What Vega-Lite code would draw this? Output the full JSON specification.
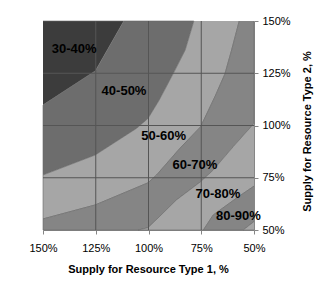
{
  "$schema": "https://vega.github.io/schema/vega-lite/v6.json",
  "width": 211,
  "height": 209,
  "autosize": "none",
  "padding": {"left": 43, "top": 21, "right": 79, "bottom": 59},
  "background": "white",
  "config": {"view": {"stroke": null}},
  "datasets": {
    "bands": [
      {"band": "30-40", "ord": 1, "x": 150, "y": 150},
      {"band": "30-40", "ord": 2, "x": 111.7, "y": 150},
      {"band": "30-40", "ord": 3, "x": 125.2, "y": 126.1},
      {"band": "30-40", "ord": 4, "x": 150, "y": 109.8},

      {"band": "40-50", "ord": 1, "x": 111.7, "y": 150},
      {"band": "40-50", "ord": 2, "x": 78.5, "y": 150},
      {"band": "40-50", "ord": 3, "x": 82.6, "y": 136.1},
      {"band": "40-50", "ord": 4, "x": 88.4, "y": 124.6},
      {"band": "40-50", "ord": 5, "x": 94.9, "y": 112.2},
      {"band": "40-50", "ord": 6, "x": 100.2, "y": 103.4},
      {"band": "40-50", "ord": 7, "x": 105.7, "y": 98.6},
      {"band": "40-50", "ord": 8, "x": 125.2, "y": 85.9},
      {"band": "40-50", "ord": 9, "x": 150, "y": 76.3},
      {"band": "40-50", "ord": 10, "x": 150, "y": 109.8},
      {"band": "40-50", "ord": 11, "x": 125.2, "y": 126.1},

      {"band": "50-60", "ord": 1, "x": 78.5, "y": 150},
      {"band": "50-60", "ord": 2, "x": 82.6, "y": 136.1},
      {"band": "50-60", "ord": 3, "x": 88.4, "y": 124.6},
      {"band": "50-60", "ord": 4, "x": 94.9, "y": 112.2},
      {"band": "50-60", "ord": 5, "x": 100.2, "y": 103.4},
      {"band": "50-60", "ord": 6, "x": 105.7, "y": 98.6},
      {"band": "50-60", "ord": 7, "x": 125.2, "y": 85.9},
      {"band": "50-60", "ord": 8, "x": 150, "y": 76.3},
      {"band": "50-60", "ord": 9, "x": 150, "y": 55.3},
      {"band": "50-60", "ord": 10, "x": 125.2, "y": 62.0},
      {"band": "50-60", "ord": 11, "x": 100.2, "y": 72.6},
      {"band": "50-60", "ord": 12, "x": 96.2, "y": 76.3},
      {"band": "50-60", "ord": 13, "x": 85.1, "y": 89.1},
      {"band": "50-60", "ord": 14, "x": 75.3, "y": 99.4},
      {"band": "50-60", "ord": 15, "x": 68.5, "y": 113.8},
      {"band": "50-60", "ord": 16, "x": 63.8, "y": 124.6},
      {"band": "50-60", "ord": 17, "x": 60.6, "y": 136.1},
      {"band": "50-60", "ord": 18, "x": 57.0, "y": 150},

      {"band": "60-70", "ord": 1, "x": 57.0, "y": 150},
      {"band": "60-70", "ord": 2, "x": 60.6, "y": 136.1},
      {"band": "60-70", "ord": 3, "x": 63.8, "y": 124.6},
      {"band": "60-70", "ord": 4, "x": 68.5, "y": 113.8},
      {"band": "60-70", "ord": 5, "x": 75.3, "y": 99.4},
      {"band": "60-70", "ord": 6, "x": 85.1, "y": 89.1},
      {"band": "60-70", "ord": 7, "x": 96.2, "y": 76.3},
      {"band": "60-70", "ord": 8, "x": 100.2, "y": 72.6},
      {"band": "60-70", "ord": 9, "x": 125.2, "y": 62.0},
      {"band": "60-70", "ord": 10, "x": 150, "y": 55.3},
      {"band": "60-70", "ord": 11, "x": 150, "y": 50},
      {"band": "60-70", "ord": 12, "x": 104.9, "y": 50},
      {"band": "60-70", "ord": 13, "x": 100.2, "y": 51.1},
      {"band": "60-70", "ord": 14, "x": 86.7, "y": 64.4},
      {"band": "60-70", "ord": 15, "x": 75.3, "y": 73.1},
      {"band": "60-70", "ord": 16, "x": 69.3, "y": 78.7},
      {"band": "60-70", "ord": 17, "x": 59.8, "y": 89.9},
      {"band": "60-70", "ord": 18, "x": 50, "y": 101.0},
      {"band": "60-70", "ord": 19, "x": 50, "y": 150},

      {"band": "70-80", "ord": 1, "x": 50, "y": 101.0},
      {"band": "70-80", "ord": 2, "x": 59.8, "y": 89.9},
      {"band": "70-80", "ord": 3, "x": 69.3, "y": 78.7},
      {"band": "70-80", "ord": 4, "x": 75.3, "y": 73.1},
      {"band": "70-80", "ord": 5, "x": 86.7, "y": 64.4},
      {"band": "70-80", "ord": 6, "x": 100.2, "y": 51.1},
      {"band": "70-80", "ord": 7, "x": 104.9, "y": 50},
      {"band": "70-80", "ord": 8, "x": 74.0, "y": 50},
      {"band": "70-80", "ord": 9, "x": 69.3, "y": 57.2},
      {"band": "70-80", "ord": 10, "x": 57.4, "y": 65.9},
      {"band": "70-80", "ord": 11, "x": 50, "y": 71.0},

      {"band": "80-90", "ord": 1, "x": 50, "y": 71.0},
      {"band": "80-90", "ord": 2, "x": 57.4, "y": 65.9},
      {"band": "80-90", "ord": 3, "x": 69.3, "y": 57.2},
      {"band": "80-90", "ord": 4, "x": 74.0, "y": 50},
      {"band": "80-90", "ord": 5, "x": 55.1, "y": 50},
      {"band": "80-90", "ord": 6, "x": 50, "y": 54.0},

      {"band": "90-100", "ord": 1, "x": 50, "y": 54.0},
      {"band": "90-100", "ord": 2, "x": 55.1, "y": 50},
      {"band": "90-100", "ord": 3, "x": 50, "y": 50}
    ],
    "gridx": [{"v": 125}, {"v": 100}, {"v": 75}],
    "gridy": [{"v": 125}, {"v": 100}, {"v": 75}],
    "labels": [
      {"label": "30-40%", "x": 135.2, "y": 136.6},
      {"label": "40-50%", "x": 111.6, "y": 116.4},
      {"label": "50-60%", "x": 92.8, "y": 95.0},
      {"label": "60-70%", "x": 78.0, "y": 81.0},
      {"label": "70-80%", "x": 67.1, "y": 67.4},
      {"label": "80-90%", "x": 57.4, "y": 56.8}
    ]
  },
  "encoding": {
    "x": {
      "field": "x",
      "type": "quantitative",
      "scale": {"domain": [50, 150], "reverse": true, "nice": false, "zero": false},
      "axis": {
        "title": "Supply for Resource Type 1, %",
        "values": [150, 125, 100, 75, 50],
        "labelExpr": "datum.value + '%'",
        "grid": false,
        "labelFlush": false,
        "labelOverlap": false,
        "domainColor": "#868686",
        "tickColor": "#868686",
        "tickSize": 4,
        "labelPadding": 8,
        "labelFont": "Liberation Sans",
        "labelFontSize": 11,
        "labelColor": "#000000",
        "titleFont": "Liberation Sans",
        "titleFontSize": 11,
        "titleFontWeight": "bold",
        "titleColor": "#000000",
        "titleX": 105,
        "titleY": 42,
        "titleBaseline": "alphabetic",
        "titleAlign": "center"
      }
    },
    "y": {
      "field": "y",
      "type": "quantitative",
      "scale": {"domain": [50, 150], "nice": false, "zero": false},
      "axis": {
        "orient": "right",
        "title": "Supply for Resource Type 2, %",
        "values": [50, 75, 100, 125, 150],
        "labelExpr": "datum.value + '%'",
        "grid": false,
        "labelFlush": false,
        "labelOverlap": false,
        "domainColor": "#868686",
        "tickColor": "#868686",
        "tickSize": 4,
        "labelPadding": 4,
        "labelFont": "Liberation Sans",
        "labelFontSize": 11,
        "labelColor": "#000000",
        "titleFont": "Liberation Sans",
        "titleFontSize": 11,
        "titleFontWeight": "bold",
        "titleColor": "#000000",
        "titleAngle": 270,
        "titleX": 56,
        "titleY": 110,
        "titleBaseline": "alphabetic",
        "titleAlign": "center"
      }
    }
  },
  "layer": [
    {
      "data": {"name": "bands"},
      "mark": {"type": "line", "filled": true, "stroke": "#6a6a6a", "strokeWidth": 0.6, "interpolate": "linear"},
      "encoding": {
        "color": {
          "field": "band",
          "type": "nominal",
          "scale": {
            "domain": ["30-40", "40-50", "50-60", "60-70", "70-80", "80-90", "90-100"],
            "range": ["#3c3c3c", "#6d6d6d", "#a6a6a6", "#858585", "#a6a6a6", "#858585", "#a6a6a6"]
          },
          "legend": null
        },
        "order": {"field": "ord", "type": "quantitative"}
      }
    },
    {
      "data": {"name": "gridx"},
      "mark": {"type": "rule", "color": "#555555", "strokeWidth": 1},
      "encoding": {"x": {"field": "v", "type": "quantitative"}, "y": null}
    },
    {
      "data": {"name": "gridy"},
      "mark": {"type": "rule", "color": "#555555", "strokeWidth": 1},
      "encoding": {"y": {"field": "v", "type": "quantitative"}, "x": null}
    },
    {
      "data": {"name": "labels"},
      "mark": {"type": "text", "font": "Liberation Sans", "fontWeight": "bold", "fontSize": 13, "color": "#000000"},
      "encoding": {"text": {"field": "label", "type": "nominal"}}
    }
  ]
}
